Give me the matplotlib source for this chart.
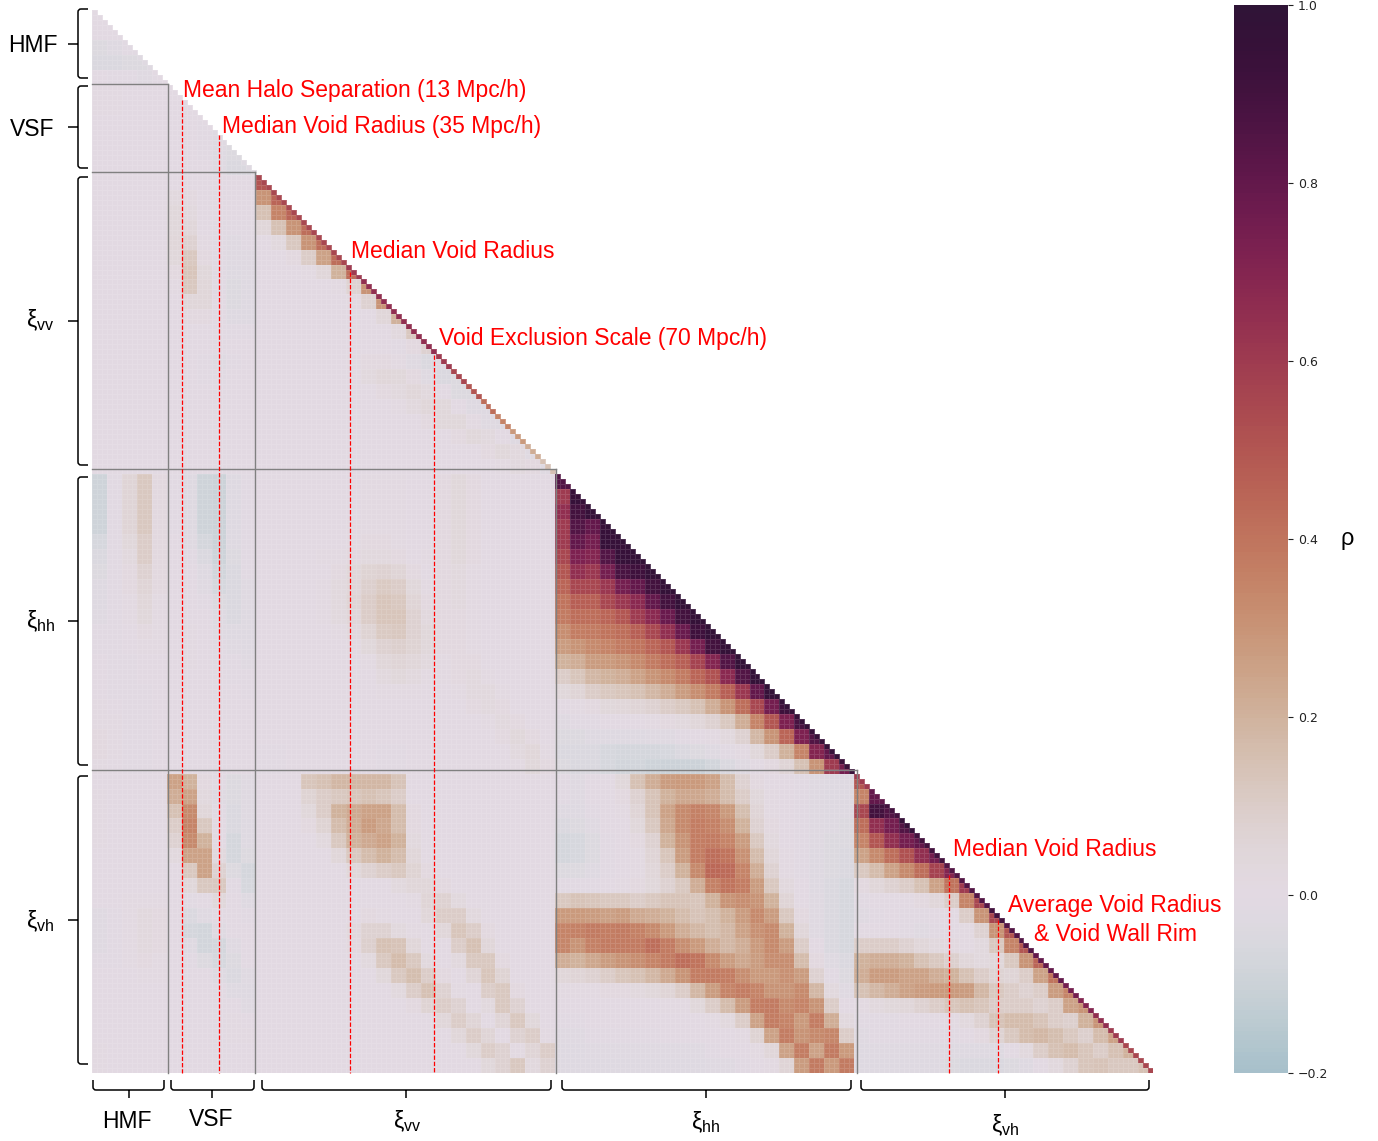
import numpy as np
import matplotlib
matplotlib.use("Agg")
import matplotlib.pyplot as plt
from matplotlib.colors import ListedColormap
from matplotlib.path import Path
from matplotlib.patches import PathPatch

plt.rcParams['mathtext.fontset'] = 'custom'
plt.rcParams['mathtext.rm'] = 'Liberation Sans'
plt.rcParams['mathtext.it'] = 'Liberation Sans'

# block sizes, in matrix cells
names = ['HMF', 'VSF', 'vv', 'hh', 'vh']
sizes = [15, 18, 60, 60, 60]

# values, coarse grid per block (top to bottom, left to right)
hmf_hmf = [[0.0],
           [0.0, 0.0],
           [-0.04, -0.03, -0.01],
           [-0.05, -0.05, -0.04, -0.04],
           [0.0, -0.01, -0.01, -0.02, -0.01]]
vsf_hmf = [[0.01, 0.01, 0.0, 0.0, 0.0],
           [0.01, 0.01, 0.0, 0.0, 0.0],
           [0.0, 0.0, 0.0, 0.0, 0.0],
           [0.0, 0.0, 0.0, 0.0, 0.0],
           [0.0, 0.0, 0.0, 0.0, 0.0],
           [0.0, 0.0, 0.0, 0.0, 0.0]]
vsf_vsf = [[0.0],
           [0.0, 0.0],
           [0.0, 0.0, -0.01],
           [0.0, 0.0, -0.01, -0.02],
           [0.0, 0.0, -0.01, -0.03, -0.04],
           [0.0, 0.0, 0.0, -0.02, -0.05, -0.05]]
vv_hmf = [[0.0, 0.0, 0.0, 0.0, 0.0]]
vv_vsf = [[0.0, 0.0, 0.0, 0.0, 0.0, 0.0],
          [0.03, 0.02, 0.0, 0.0, 0.0, 0.0],
          [0.04, 0.03, 0.0, 0.0, 0.0, 0.0],
          [0.04, 0.05, 0.0, -0.01, -0.01, -0.01],
          [0.05, 0.08, 0.01, -0.01, -0.02, -0.01],
          [0.04, 0.12, 0.02, -0.01, -0.02, -0.02],
          [0.02, 0.13, 0.04, -0.01, -0.03, -0.02],
          [0.01, 0.12, 0.05, -0.01, -0.04, -0.03],
          [0.0, 0.05, 0.05, 0.0, -0.04, -0.03],
          [0.0, 0.02, 0.02, 0.0, -0.03, -0.03],
          [0.0, 0.0, 0.0, 0.0, -0.01, -0.01],
          [0.0, 0.0, 0.0, 0.0, 0.0, 0.0],
          [0.0, 0.0, -0.01, -0.02, -0.01, 0.0],
          [0.0, 0.0, -0.01, -0.01, 0.0, 0.0],
          [0.0, 0.0, 0.0, 0.0, 0.0, 0.0],
          [0.0, 0.0, 0.0, 0.0, 0.0, 0.0],
          [0.0, 0.0, 0.0, 0.0, 0.0, 0.0],
          [0.0, 0.0, 0.0, 0.0, 0.0, 0.0],
          [0.0, 0.0, 0.0, 0.0, 0.0, 0.0],
          [0.0, 0.0, 0.0, 0.0, 0.0, 0.0]]
vv_vv = [[0.5],
         [0.3, 0.45],
         [0.15, 0.35, 0.45],
         [0.05, 0.15, 0.3, 0.42],
         [0.0, 0.03, 0.12, 0.3, 0.42],
         [0.0, 0.0, 0.02, 0.1, 0.25, 0.42],
         [0.0, 0.0, 0.0, 0.01, 0.05, 0.2, 0.42],
         [0.0, 0.0, 0.0, 0.0, 0.0, 0.01, 0.07, 0.3],
         [0.0, 0.0, 0.0, 0.0, 0.0, 0.0, 0.01, 0.08, 0.3],
         [0.0, 0.0, 0.0, 0.0, 0.0, 0.0, 0.0, 0.0, 0.05, 0.2],
         [0.0, 0.0, 0.0, 0.0, 0.0, 0.0, 0.0, 0.0, 0.0, 0.03, 0.12],
         [0.0, 0.0, 0.0, 0.0, 0.0, 0.0, 0.0, 0.0, 0.0, -0.01, 0.02, 0.08],
         [0.0, 0.0, 0.0, 0.0, 0.0, 0.0, 0.01, 0.02, 0.02, 0.01, -0.02, -0.05, -0.02],
         [0.0, 0.0, 0.0, 0.0, 0.0, 0.0, 0.0, 0.03, 0.05, 0.04, 0.02, -0.02, -0.05, -0.04],
         [0.0, 0.0, 0.0, 0.0, 0.0, 0.0, 0.0, 0.0, 0.02, 0.03, 0.05, 0.03, 0.0, -0.04, -0.04],
         [0.0, 0.0, 0.0, 0.0, 0.0, 0.0, 0.0, 0.0, 0.0, 0.01, 0.03, 0.05, 0.04, 0.0, -0.03, -0.03],
         [0.0, 0.0, 0.0, 0.0, 0.0, 0.0, 0.0, 0.0, 0.0, 0.0, 0.0, 0.02, 0.04, 0.04, 0.01, -0.02, -0.03],
         [0.0, 0.0, 0.0, 0.0, 0.0, 0.0, 0.0, 0.0, 0.0, 0.0, 0.0, 0.0, 0.0, 0.02, 0.04, 0.03, 0.0, -0.03],
         [0.0, 0.0, 0.0, 0.0, 0.0, 0.0, 0.0, 0.0, 0.0, 0.0, 0.0, 0.0, 0.0, 0.0, 0.0, 0.02, 0.04, 0.03, -0.02],
         [0.0, 0.0, 0.0, 0.0, 0.0, 0.0, 0.0, 0.0, 0.0, 0.0, 0.0, 0.0, 0.0, 0.0, 0.0, 0.0, 0.01, 0.03, 0.02, -0.02]]
hh_hmf = [[-0.09, -0.01, 0.06, 0.12, 0.02],
          [-0.09, -0.01, 0.06, 0.12, 0.02],
          [-0.09, -0.01, 0.06, 0.12, 0.02],
          [-0.09, -0.01, 0.06, 0.12, 0.02],
          [-0.06, -0.01, 0.04, 0.1, 0.02],
          [-0.05, -0.01, 0.03, 0.1, 0.02],
          [-0.04, -0.01, 0.02, 0.08, 0.02],
          [-0.03, -0.01, 0.02, 0.06, 0.02],
          [-0.03, -0.01, 0.01, 0.05, 0.01],
          [-0.02, -0.01, 0.01, 0.04, 0.01],
          [-0.01, -0.01, 0.0, 0.02, 0.01],
          [-0.01, -0.01, 0.0, 0.01, 0.01],
          [0.0, -0.01, -0.01, 0.0, 0.0],
          [0.0, -0.01, -0.01, 0.0, 0.0],
          [0.0, -0.01, -0.01, -0.01, 0.0],
          [0.01, 0.0, -0.01, -0.01, 0.0],
          [0.01, 0.01, -0.01, -0.01, 0.0],
          [0.02, 0.01, -0.01, -0.01, 0.0],
          [0.02, 0.01, -0.01, -0.01, 0.0],
          [0.01, 0.0, -0.01, -0.01, 0.0]]
hh_vsf = [[-0.01, -0.03, -0.09, -0.1, -0.03, -0.01],
          [-0.01, -0.03, -0.09, -0.1, -0.03, -0.01],
          [-0.01, -0.03, -0.09, -0.1, -0.03, -0.01],
          [-0.01, -0.03, -0.09, -0.1, -0.03, -0.01],
          [0.0, -0.02, -0.07, -0.1, -0.03, -0.01],
          [0.0, -0.01, -0.05, -0.09, -0.04, -0.01],
          [0.0, 0.0, -0.03, -0.08, -0.05, -0.01],
          [0.0, 0.0, -0.02, -0.06, -0.05, -0.02],
          [0.0, 0.0, -0.01, -0.04, -0.05, -0.02],
          [0.0, 0.0, 0.0, -0.03, -0.05, -0.03],
          [0.0, 0.01, 0.0, -0.02, -0.03, -0.03],
          [0.0, 0.01, 0.0, -0.01, -0.02, -0.03],
          [0.0, 0.01, 0.0, -0.01, -0.01, -0.02],
          [0.0, 0.0, 0.0, 0.0, -0.01, -0.01],
          [0.0, 0.0, 0.0, 0.0, 0.0, -0.01],
          [0.0, 0.0, 0.0, 0.0, 0.0, 0.0],
          [0.0, 0.0, 0.0, 0.0, 0.0, 0.0],
          [0.0, 0.0, 0.0, 0.0, 0.0, 0.0],
          [0.0, 0.0, 0.0, 0.0, 0.0, 0.0],
          [0.0, 0.0, 0.0, 0.0, 0.0, 0.0]]
hh_vv = [[0, 0, 0, 0, 0, 0, 0, .01, .01, .01, 0, 0, .02, .04, .02, 0, 0, 0, 0, 0],
         [0, 0, 0, 0, 0, 0, 0, .01, .01, .01, 0, 0, .02, .04, .02, 0, 0, 0, 0, 0],
         [0, 0, 0, 0, 0, 0, 0, .01, .01, .01, 0, 0, .02, .04, .02, 0, 0, 0, 0, 0],
         [0, 0, 0, 0, 0, 0, .01, .01, .01, .01, 0, 0, .02, .04, .02, 0, 0, 0, 0, 0],
         [0, 0, 0, 0, 0, 0, .01, .02, .02, .01, 0, 0, .02, .04, .02, 0, 0, 0, 0, 0],
         [0, 0, 0, 0, .01, .01, .02, .03, .03, .02, 0, .01, .02, .04, .02, 0, 0, 0, 0, 0],
         [0, 0, 0, 0, 0, .02, .04, .07, .08, .06, .02, 0, .02, .03, .01, 0, 0, 0, 0, 0],
         [0, 0, 0, 0, .01, .03, .05, .09, .11, .1, .04, .01, .02, .03, .01, 0, 0, 0, 0, 0],
         [0, 0, 0, 0, .01, .03, .06, .1, .13, .12, .06, .02, .02, .03, .01, 0, 0, 0, 0, 0],
         [0, 0, 0, 0, .01, .03, .05, .1, .13, .13, .08, .03, .02, .02, .01, 0, 0, 0, 0, 0],
         [0, 0, 0, 0, 0, .01, .03, .07, .11, .12, .08, .04, .02, .02, .01, 0, 0, 0, 0, 0],
         [0, 0, 0, 0, 0, 0, .01, .04, .08, .09, .07, .04, .02, .02, .01, 0, 0, 0, 0, 0],
         [0, 0, 0, 0, 0, 0, 0, .01, .05, .06, .05, .03, .01, .02, .02, 0, 0, 0, 0, 0],
         [0, 0, 0, 0, 0, 0, 0, 0, .03, .04, .03, .01, .01, .02, .03, .01, 0, 0, 0, 0],
         [0, 0, 0, 0, 0, 0, 0, 0, .01, .01, .01, 0, 0, .01, .03, .03, .01, 0, 0, 0],
         [0, 0, 0, 0, 0, 0, 0, 0, 0, 0, 0, 0, 0, 0, .02, .03, .02, 0, 0, 0],
         [0, 0, 0, 0, 0, 0, 0, 0, 0, 0, 0, 0, 0, 0, 0, .01, .03, .02, 0, 0],
         [0, 0, 0, 0, 0, 0, 0, 0, 0, 0, 0, 0, 0, 0, 0, 0, .02, .04, .02, 0],
         [-.01, -.01, 0, 0, 0, 0, 0, 0, -.01, -.01, 0, 0, 0, 0, 0, 0, 0, .03, .05, .01],
         [-.01, -.01, 0, 0, 0, 0, 0, 0, -.01, -.01, 0, 0, 0, 0, 0, 0, 0, .01, .04, .02]]
hh_hh = [[0.85],
         [0.6, 0.95],
         [0.65, 0.9, 0.95],
         [0.6, 0.85, 0.8, 0.95],
         [0.6, 0.8, 0.75, 0.95, 0.95],
         [0.55, 0.72, 0.7, 0.85, 0.95, 0.97],
         [0.5, 0.65, 0.62, 0.75, 0.88, 0.92, 0.97],
         [0.45, 0.55, 0.55, 0.62, 0.75, 0.8, 0.9, 0.97],
         [0.4, 0.47, 0.47, 0.55, 0.62, 0.68, 0.8, 0.9, 0.97],
         [0.38, 0.42, 0.42, 0.45, 0.5, 0.6, 0.68, 0.78, 0.9, 0.97],
         [0.32, 0.37, 0.38, 0.4, 0.42, 0.47, 0.55, 0.65, 0.78, 0.92, 0.97],
         [0.27, 0.3, 0.33, 0.35, 0.38, 0.4, 0.45, 0.5, 0.62, 0.75, 0.9, 0.97],
         [0.2, 0.22, 0.27, 0.28, 0.3, 0.33, 0.38, 0.42, 0.47, 0.57, 0.7, 0.85, 0.97],
         [0.1, 0.13, 0.18, 0.2, 0.22, 0.25, 0.3, 0.33, 0.38, 0.45, 0.52, 0.68, 0.85, 0.97],
         [0.04, 0.06, 0.1, 0.12, 0.13, 0.15, 0.18, 0.22, 0.27, 0.32, 0.38, 0.47, 0.62, 0.8, 0.95],
         [0.0, 0.01, 0.02, 0.04, 0.05, 0.06, 0.08, 0.1, 0.12, 0.15, 0.22, 0.3, 0.42, 0.55, 0.75, 0.92],
         [-0.02, -0.01, -0.01, 0.0, 0.0, 0.0, 0.01, 0.02, 0.03, 0.05, 0.08, 0.12, 0.22, 0.35, 0.5, 0.72, 0.88],
         [-0.04, -0.04, -0.03, -0.03, -0.03, -0.03, -0.02, -0.02, -0.01, 0.0, 0.01, 0.03, 0.08, 0.18, 0.3, 0.45, 0.72, 0.85],
         [-0.05, -0.05, -0.05, -0.06, -0.07, -0.07, -0.07, -0.06, -0.05, -0.04, -0.03, -0.01, 0.01, 0.04, 0.1, 0.2, 0.35, 0.7, 0.8],
         [-0.04, -0.05, -0.05, -0.06, -0.08, -0.08, -0.09, -0.1, -0.1, -0.1, -0.08, -0.05, -0.02, 0.0, 0.02, 0.06, 0.15, 0.3, 0.6, 0.75]]
vh_hmf = [[0.0, 0.0, 0.0, 0.0, 0.0],
          [0.01, 0.0, 0.0, 0.0, 0.0],
          [0.01, 0.0, 0.0, 0.0, 0.0],
          [0.01, 0.0, 0.0, 0.0, 0.0],
          [0.01, 0.0, 0.0, 0.0, 0.0],
          [0.0, 0.0, 0.0, 0.0, 0.0],
          [0.0, 0.0, 0.0, 0.0, 0.0],
          [0.0, 0.0, 0.0, 0.0, 0.0],
          [0.0, 0.0, 0.01, 0.01, 0.01],
          [-0.02, -0.01, 0.01, 0.03, 0.02],
          [-0.02, -0.01, 0.01, 0.03, 0.02],
          [-0.02, -0.01, 0.01, 0.03, 0.02],
          [-0.01, -0.01, 0.01, 0.02, 0.01],
          [0.0, 0.0, 0.0, 0.01, 0.01],
          [0.0, 0.0, 0.0, 0.0, 0.0],
          [0.0, 0.0, 0.0, 0.0, 0.0],
          [0.0, 0.0, 0.0, 0.0, 0.0],
          [0.0, 0.0, 0.0, 0.0, 0.0],
          [0.01, 0.0, 0.0, 0.0, 0.0],
          [0.01, 0.0, 0.0, 0.0, 0.0]]
vh_vsf = [[0.25, 0.2, 0.02, -0.01, -0.04, -0.02],
          [0.22, 0.25, 0.03, -0.02, -0.04, -0.02],
          [0.15, 0.33, 0.05, -0.01, -0.05, -0.02],
          [0.1, 0.35, 0.12, 0.0, -0.05, -0.03],
          [0.08, 0.33, 0.2, 0.0, -0.07, -0.03],
          [0.03, 0.25, 0.25, 0.03, -0.07, -0.04],
          [0.0, 0.12, 0.25, 0.08, -0.04, -0.07],
          [0.0, 0.04, 0.12, 0.12, -0.01, -0.06],
          [0.0, -0.01, 0.0, 0.04, 0.0, -0.03],
          [0.0, -0.05, -0.02, 0.0, 0.0, -0.01],
          [0.0, -0.07, -0.08, -0.02, 0.0, 0.0],
          [0.0, -0.03, -0.08, -0.07, -0.02, 0.0],
          [0.0, -0.01, -0.04, -0.06, -0.04, 0.0],
          [0.0, 0.0, 0.0, -0.03, -0.05, -0.02],
          [0.0, 0.0, 0.0, 0.0, -0.03, -0.03],
          [0.0, 0.0, 0.0, 0.0, 0.0, -0.02],
          [0.0, 0.0, 0.0, 0.0, 0.01, 0.0],
          [0.0, 0.0, 0.0, 0.0, 0.01, 0.01],
          [0.0, 0.0, 0.0, 0.0, 0.0, 0.0],
          [0.0, 0.0, 0.0, 0.0, 0.0, 0.0]]
vh_vv = [[0, 0, 0, .13, .15, .18, .18, .18, .18, .14, 0, 0, 0, 0, 0, 0, 0, 0, 0, 0],
         [0, 0, 0, .07, .1, .12, .13, .15, .13, .1, 0, 0, 0, 0, 0, 0, 0, 0, 0, 0],
         [0, 0, 0, .04, .1, .2, .23, .25, .25, .17, .02, 0, 0, 0, 0, 0, 0, 0, 0, 0],
         [0, 0, 0, .02, .07, .17, .22, .27, .24, .17, .02, 0, 0, 0, 0, 0, 0, 0, 0, 0],
         [0, 0, 0, 0, .03, .12, .2, .23, .25, .2, .03, 0, 0, 0, 0, 0, 0, 0, 0, 0],
         [0, 0, 0, 0, 0, .05, .12, .17, .2, .17, .05, 0, 0, 0, 0, 0, 0, 0, 0, 0],
         [0, 0, 0, 0, 0, 0, .04, .08, .1, .12, .07, .02, 0, 0, 0, 0, 0, 0, 0, 0],
         [0, 0, 0, 0, 0, 0, 0, 0, 0, .03, .05, .05, .02, 0, 0, 0, 0, 0, 0, 0],
         [0, 0, 0, 0, 0, 0, 0, 0, 0, 0, .01, .06, .08, .03, 0, 0, 0, 0, 0, 0],
         [0, 0, 0, 0, 0, 0, 0, .02, .01, 0, 0, .05, .1, .1, .03, 0, 0, 0, 0, 0],
         [0, 0, 0, 0, 0, 0, .03, .08, .08, .03, .01, 0, .05, .13, .1, .02, 0, 0, 0, 0],
         [0, 0, 0, 0, 0, 0, .02, .09, .15, .14, .05, 0, 0, .1, .15, .05, 0, 0, 0, 0],
         [0, 0, 0, 0, 0, 0, 0, .03, .12, .17, .12, .03, 0, .03, .12, .12, .02, 0, 0, 0],
         [0, 0, 0, 0, 0, 0, 0, 0, .04, .12, .16, .1, .02, 0, .06, .13, .07, 0, 0, 0],
         [0, 0, 0, 0, 0, 0, 0, 0, 0, .03, .1, .15, .08, .01, 0, .1, .12, .02, 0, 0],
         [0, 0, 0, 0, 0, 0, 0, 0, 0, 0, .02, .07, .1, .08, 0, .03, .12, .08, 0, 0],
         [0, 0, 0, 0, 0, 0, 0, 0, 0, 0, 0, 0, .05, .1, .06, 0, .06, .12, .04, 0],
         [0, 0, 0, 0, 0, 0, 0, 0, 0, 0, 0, 0, 0, .05, .1, .06, 0, .08, .1, .01],
         [0, 0, 0, 0, 0, 0, 0, 0, 0, 0, 0, 0, 0, 0, .04, .1, .08, .01, .06, .1],
         [0, 0, 0, 0, 0, 0, 0, 0, 0, 0, 0, 0, 0, 0, 0, .04, .08, .12, .03, .08]]
vh_hh = [[-.01, -.02, 0, 0, .04, .15, .22, .27, .28, .28, .25, .17, .08, .02, 0, 0, -.01, -.02, -.03, -.03],
         [-.01, -.02, 0, 0, .02, .08, .14, .2, .24, .24, .22, .17, .1, .04, .01, 0, -.01, -.02, -.03, -.03],
         [-.03, -.03, -.01, 0, .01, .06, .14, .25, .33, .36, .34, .28, .16, .06, .01, 0, -.01, -.02, -.03, -.03],
         [-.05, -.04, -.02, 0, 0, .04, .12, .24, .33, .37, .36, .32, .2, .08, .02, 0, -.01, -.02, -.03, -.04],
         [-.07, -.06, -.04, -.01, 0, .02, .08, .2, .3, .37, .38, .35, .27, .12, .03, 0, -.01, -.02, -.04, -.04],
         [-.07, -.06, -.04, -.01, 0, .01, .06, .13, .27, .37, .42, .4, .31, .17, .05, .01, -.01, -.03, -.04, -.05],
         [-.04, -.04, -.03, -.01, 0, .01, .05, .1, .2, .33, .44, .43, .35, .22, .08, .01, -.01, -.03, -.04, -.05],
         [-.01, -.01, -.01, 0, .01, .02, .04, .08, .12, .22, .36, .4, .37, .27, .12, .03, 0, -.03, -.05, -.06],
         [.12, .14, .13, .12, .12, .1, .12, .14, .14, .13, .2, .3, .32, .3, .2, .06, 0, -.02, -.05, -.06],
         [.28, .28, .27, .26, .27, .23, .22, .2, .17, .14, .16, .2, .27, .33, .27, .12, .02, -.02, -.05, -.06],
         [.35, .36, .38, .37, .38, .36, .33, .28, .22, .18, .16, .18, .25, .31, .33, .2, .05, -.02, -.05, -.06],
         [.34, .3, .36, .38, .38, .38, .42, .38, .32, .28, .22, .18, .22, .28, .33, .27, .1, 0, -.05, -.06],
         [.22, .2, .24, .27, .3, .32, .35, .38, .42, .4, .33, .27, .24, .27, .32, .32, .17, .02, -.03, -.05],
         [.05, .06, .08, .1, .13, .15, .18, .23, .3, .37, .38, .37, .32, .28, .28, .31, .27, .08, -.01, -.04],
         [.01, .01, .01, .02, .02, .03, .04, .06, .1, .18, .27, .35, .37, .35, .3, .3, .33, .18, .03, -.02],
         [0, 0, 0, 0, 0, 0, 0, .01, .01, .04, .1, .17, .27, .37, .38, .33, .35, .3, .1, 0],
         [-.01, -.01, 0, 0, 0, 0, 0, 0, 0, 0, .01, .03, .1, .25, .37, .35, .28, .37, .22, .03],
         [-.02, -.02, -.01, -.01, -.01, -.01, -.01, 0, 0, 0, 0, 0, .01, .07, .25, .37, .3, .33, .34, .1],
         [-.03, -.03, -.02, -.02, -.02, -.02, -.02, -.02, -.02, -.02, -.01, 0, 0, .01, .05, .25, .37, .25, .38, .28],
         [-.03, -.03, -.03, -.03, -.03, -.03, -.03, -.03, -.03, -.03, -.02, -.02, -.01, 0, .01, .06, .27, .38, .28, .38]]
vh_vh = [[0.5],
         [0.35, 0.8],
         [0.55, 0.9, 0.85],
         [0.42, 0.65, 0.75, 0.85],
         [0.35, 0.5, 0.65, 0.75, 0.8],
         [0.25, 0.33, 0.42, 0.52, 0.65, 0.75],
         [0.12, 0.17, 0.25, 0.33, 0.42, 0.57, 0.7],
         [0.02, 0.05, 0.08, 0.1, 0.15, 0.25, 0.4, 0.6],
         [-0.01, 0.0, 0.0, 0.0, 0.02, 0.05, 0.1, 0.35, 0.55],
         [-0.02, -0.01, 0.0, -0.01, -0.01, 0.0, 0.0, 0.1, 0.3, 0.55],
         [0.0, 0.0, 0.0, -0.01, -0.02, -0.01, 0.0, 0.01, 0.08, 0.3, 0.5],
         [0.1, 0.1, 0.1, 0.08, 0.05, 0.03, 0.02, 0.01, 0.03, 0.12, 0.35, 0.5],
         [0.2, 0.22, 0.22, 0.2, 0.15, 0.12, 0.09, 0.05, 0.03, 0.04, 0.12, 0.3, 0.45],
         [0.22, 0.27, 0.27, 0.25, 0.25, 0.22, 0.2, 0.15, 0.1, 0.07, 0.06, 0.1, 0.25, 0.4],
         [0.15, 0.18, 0.22, 0.25, 0.27, 0.28, 0.28, 0.27, 0.18, 0.12, 0.1, 0.08, 0.1, 0.27, 0.35],
         [0.01, 0.03, 0.04, 0.05, 0.08, 0.1, 0.13, 0.15, 0.13, 0.1, 0.1, 0.1, 0.08, 0.1, 0.25, 0.3],
         [-0.01, -0.01, -0.01, 0.0, 0.0, 0.0, 0.01, 0.03, 0.08, 0.14, 0.17, 0.17, 0.14, 0.1, 0.09, 0.2, 0.3],
         [-0.02, -0.01, -0.01, -0.01, -0.01, -0.01, -0.01, 0.0, 0.02, 0.07, 0.12, 0.17, 0.18, 0.16, 0.12, 0.09, 0.17, 0.25],
         [-0.03, -0.02, -0.02, -0.02, -0.02, -0.02, -0.03, -0.03, -0.03, -0.03, 0.0, 0.03, 0.1, 0.15, 0.17, 0.13, 0.1, 0.15, 0.2],
         [-0.03, -0.03, -0.03, -0.03, -0.03, -0.03, -0.04, -0.05, -0.05, -0.05, -0.04, -0.03, 0.0, 0.03, 0.08, 0.13, 0.14, 0.12, 0.12, 0.15]]

# diagonal cells of each auto block
diag_hmf = [0.0, 0.0, -0.01, -0.02, 0.0]
diag_vsf = [0.0, 0.0, 0.0, -0.02, -0.04, -0.02]
diag_vv = [.55, .55, .55, .55, .55, .55, .6, .65, .65, .65, .65, .65, .6, .55, .5, .42, .35, .28, .22, .15]
diag_hh = [.85, .95, .97, .98, .98, .98, .98, .98, .98, .98, .98, .98, .98, .98, .98, .97, .96, .95, .95, .93]
diag_vh = [.6, .8, .9, .95, .9, .9, .85, .85, .85, .9, .85, .85, .8, .8, .75, .7, .65, .6, .55, .55]

blocks = {(0, 0): hmf_hmf, (1, 0): vsf_hmf, (1, 1): vsf_vsf,
          (2, 0): vv_hmf, (2, 1): vv_vsf, (2, 2): vv_vv,
          (3, 0): hh_hmf, (3, 1): hh_vsf, (3, 2): hh_vv, (3, 3): hh_hh,
          (4, 0): vh_hmf, (4, 1): vh_vsf, (4, 2): vh_vv, (4, 3): vh_hh, (4, 4): vh_vh}
diags = [diag_hmf, diag_vsf, diag_vv, diag_hh, diag_vh]

# build the full matrix, each coarse value repeated over its cells
n = sum(sizes)
starts = np.cumsum([0] + sizes)
corr = np.full((n, n), np.nan)
for (a, b), grid in blocks.items():
    ncols = max(len(row) for row in grid)
    for i in range(sizes[a]):
        row = grid[i * len(grid) // sizes[a]]
        for j in range(sizes[b]):
            c = j * ncols // sizes[b]
            if c < len(row):
                corr[starts[a] + i, starts[b] + j] = row[c]
for a, d in enumerate(diags):
    for i in range(sizes[a]):
        corr[starts[a] + i, starts[a] + i] = d[i * len(d) // sizes[a]]
corr = np.ma.masked_where(np.triu(np.ones((n, n)), k=1) > 0, corr)
corr = np.ma.masked_invalid(corr)

# lower half of twilight_shifted cut at rho = -0.2
cmap = ListedColormap(plt.get_cmap('twilight_shifted')(np.linspace(0.4, 1.0, 256)))

W, H = 1378, 1141
fig = plt.figure(figsize=(W / 100, H / 100), dpi=100)


def px_axes(x0, y0, x1, y1):
    return fig.add_axes([x0 / W, 1 - y1 / H, (x1 - x0) / W, (y1 - y0) / H])


ax = px_axes(92, 10, 1153, 1073)
mesh = ax.pcolormesh(np.arange(n + 1), np.arange(n + 1), corr, cmap=cmap, vmin=-0.2, vmax=1.0,
                     edgecolors=(1, 1, 1, 0.12), linewidth=0.5)
ax.set_xlim(0, n)
ax.set_ylim(n, 0)
ax.axis('off')

cax = px_axes(1234, 5, 1288, 1073)
cbar = fig.colorbar(mesh, cax=cax)
cbar.set_ticks(np.arange(-0.2, 1.01, 0.2))
cbar.outline.set_visible(False)
cbar.ax.tick_params(labelsize=9, length=3.5, width=0.8, colors='#222222')

# everything below is placed in pixels
ov = fig.add_axes([0, 0, 1, 1])
ov.set_xlim(0, W)
ov.set_ylim(H, 0)
ov.axis('off')
ov.patch.set_alpha(0)

# section outlines
edges_x = [168, 255, 556, 857]
edges_y = [84, 172, 469, 770]
for ex, ey in zip(edges_x, edges_y):
    ov.plot([92, ex], [ey, ey], color='gray', lw=1)
    ov.plot([ex, ex], [ey, 1073], color='gray', lw=1)

# scale markers
marks = [(182, 100), (219, 135), (350, 272), (434, 355), (949, 875), (998, 920)]
for mx, my in marks:
    ov.plot([mx, mx], [my, 1073], color='red', lw=0.9, ls=(0, (3.5, 1.5)))

sans = 'Liberation Sans'
notes = [(183, 90, 'Mean Halo Separation (13 Mpc/h)'),
         (222, 126, 'Median Void Radius (35 Mpc/h)'),
         (351, 252, 'Median Void Radius'),
         (439, 339, 'Void Exclusion Scale (70 Mpc/h)'),
         (953, 850, 'Median Void Radius')]
for tx, ty, s in notes:
    ov.text(tx, ty, s, color='red', fontsize=16.5, family=sans, va='center', ha='left')
ov.text(1115, 920, 'Average Void Radius\n& Void Wall Rim', color='red', fontsize=16.5, family=sans,
        va='center', ha='center', linespacing=1.3)


def left_bracket(y0, y1, yc):
    verts = [(88, y0), (81, y0), (78, y0), (78, y0 + 3), (78, y1 - 3), (78, y1), (81, y1), (88, y1),
             (68, yc), (78, yc)]
    codes = [Path.MOVETO, Path.LINETO, Path.CURVE3, Path.CURVE3, Path.LINETO, Path.CURVE3, Path.CURVE3,
             Path.LINETO, Path.MOVETO, Path.LINETO]
    ov.add_patch(PathPatch(Path(verts, codes), fc='none', ec='black', lw=1.1))


def bottom_bracket(x0, x1, xc):
    verts = [(x0, 1080), (x0, 1087), (x0, 1090), (x0 + 3, 1090), (x1 - 3, 1090), (x1, 1090), (x1, 1087),
             (x1, 1080), (xc, 1090), (xc, 1098)]
    codes = [Path.MOVETO, Path.LINETO, Path.CURVE3, Path.CURVE3, Path.LINETO, Path.CURVE3, Path.CURVE3,
             Path.LINETO, Path.MOVETO, Path.LINETO]
    ov.add_patch(PathPatch(Path(verts, codes), fc='none', ec='black', lw=1.1))


for y0, y1, yc in [(9, 78, 44), (86, 168, 127), (177, 465, 321), (477, 765, 621), (776, 1064, 920)]:
    left_bracket(y0, y1, yc)
for x0, x1, xc in [(93, 164, 129), (171, 254, 212), (262, 551, 406), (562, 851, 706), (861, 1149, 1005)]:
    bottom_bracket(x0, x1, xc)

xi_labels = [r'$\mathrm{\xi_{vv}}$', r'$\mathrm{\xi_{hh}}$', r'$\mathrm{\xi_{vh}}$']
ov.text(33, 46, 'HMF', fontsize=16.5, family=sans, ha='center', va='center')
ov.text(32, 129, 'VSF', fontsize=16.5, family=sans, ha='center', va='center')
for (tx, ty), s in zip([(40, 320), (41, 621), (40, 921)], xi_labels):
    ov.text(tx, ty, s, fontsize=16.5, ha='center', va='center')
ov.text(127, 1121, 'HMF', fontsize=16.5, family=sans, ha='center', va='center')
ov.text(211, 1119, 'VSF', fontsize=16.5, family=sans, ha='center', va='center')
for (tx, ty), s in zip([(407, 1121), (706, 1122), (1005, 1125)], xi_labels):
    ov.text(tx, ty, s, fontsize=16.5, ha='center', va='center')
ov.text(1347, 539, '\u03c1', fontsize=17, family=sans, ha='center', va='center')

fig.savefig('out.png', dpi=100)
